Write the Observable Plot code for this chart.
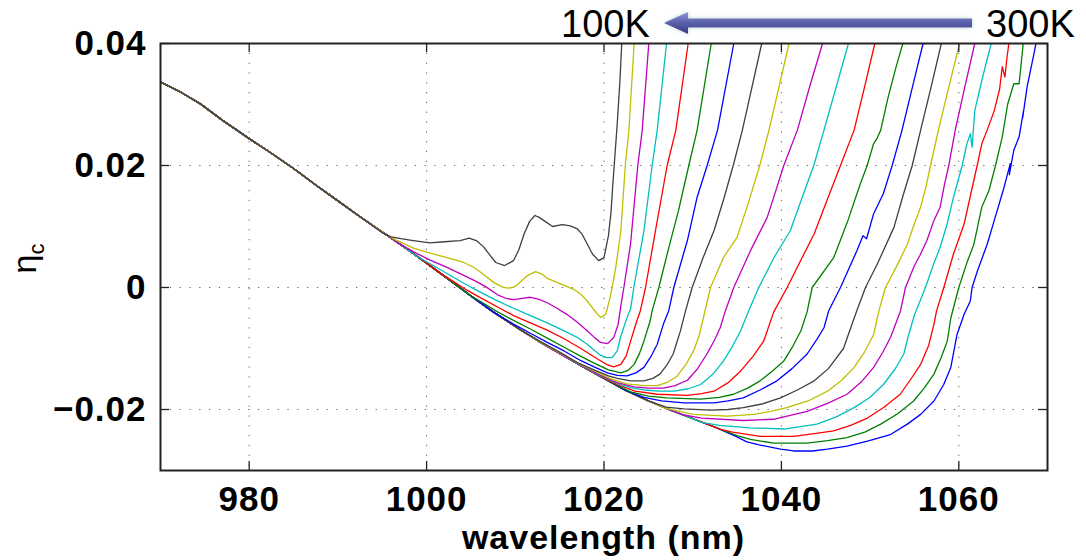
<!DOCTYPE html>
<html>
<head>
<meta charset="utf-8">
<script src="https://cdn.jsdelivr.net/npm/d3@7"></script>
<script src="https://cdn.jsdelivr.net/npm/@observablehq/plot@0.6"></script>
<style>
  html, body { margin: 0; padding: 0; background: #fff; }
  #chart { width: 1086px; height: 560px; position: relative; }
</style>
</head>
<body>
<div id="chart"></div>
<script>
// ---------- data ----------
const temps = [300, 290, 280, 270, 260, 250, 240, 230, 220, 210, 200, 190, 180, 170, 160, 150, 140, 130, 120, 110, 100];
const colorCycle = ["#0000ff", "#008000", "#ff0000", "#00bfbf", "#bf00bf", "#bfbf00", "#404040"];
const xTicks = [980, 1000, 1020, 1040, 1060];
const xTickLabels = ["980", "1000", "1020", "1040", "1060"];
const yTicks = [-0.02, 0, 0.02, 0.04];
const yTickLabels = ["\u22120.02", "0", "0.02", "0.04"];
const annLeft = "100K";
const annRight = "300K";

// common descending part shared by all curves (wavelength nm, eta_c)
const baseline = [[970,0.0337],[972.3,0.0320],[974.5,0.0301],[977,0.0274],[980,0.0244],[982.5,0.0220],[985,0.0195],[987.5,0.0168],[990,0.0142],[992.5,0.0116],[995,0.0091],[997.5,0.0066],[1000,0.0040],[1002.5,0.0013],[1005,-0.0014],[1007.5,-0.0040],[1010,-0.0064],[1012.5,-0.0087],[1015,-0.0108],[1017.5,-0.0129],[1020,-0.0149],[1022.5,-0.0169],[1025,-0.0186],[1027.5,-0.0201],[1030,-0.0215],[1032.5,-0.0229]];

// each curve after it leaves the common part
const t100 = [[995.0,0.0090],[996.0,0.0083],[997.1,0.0080],[998.5,0.0077],[1000.4,0.0073],[1002.0,0.0075],[1003.8,0.0077],[1004.8,0.0081],[1005.6,0.0077],[1006.4,0.0067],[1007.2,0.0052],[1007.8,0.0041],[1008.8,0.0036],[1009.8,0.0044],[1010.4,0.0062],[1011.0,0.0088],[1011.6,0.0108],[1012.2,0.0118],[1012.7,0.0115],[1013.2,0.0110],[1014.2,0.0100],[1015.3,0.0103],[1016.2,0.0101],[1017.0,0.0096],[1017.5,0.0088],[1017.9,0.0077],[1018.7,0.0055],[1019.4,0.0044],[1020.0,0.0049],[1020.5,0.0085],[1020.8,0.0125],[1021.0,0.0170],[1021.15,0.0200],[1021.5,0.0270],[1021.8,0.0340],[1022.0,0.0400],[1022.2,0.0460]];
const t110 = [[995.5,0.0086],[996.5,0.0078],[998.6,0.0064],[1000.5,0.0056],[1002.3,0.0049],[1004.2,0.0041],[1005.2,0.0034],[1006.1,0.0025],[1007.6,0.0008],[1008.5,0.0001],[1009.1,-0.0001],[1009.7,0.0000],[1010.2,0.0004],[1011.3,0.0019],[1012.3,0.0026],[1013.0,0.0022],[1013.6,0.0015],[1015.1,0.0006],[1016.6,-0.0003],[1017.4,-0.0011],[1018.1,-0.0022],[1019.1,-0.0041],[1019.6,-0.0049],[1020.2,-0.0044],[1020.7,-0.0016],[1021.3,0.0030],[1021.9,0.0093],[1022.4,0.0200],[1022.8,0.0257],[1023.4,0.0400],[1023.6,0.0460]];
const t120 = [[997.0,0.0071],[998.6,0.0058],[1000.4,0.0045],[1002.3,0.0033],[1004.0,0.0021],[1005.3,0.0012],[1006.7,0.0001],[1008.0,-0.0012],[1009.0,-0.0018],[1009.8,-0.0020],[1010.8,-0.0018],[1011.7,-0.0016],[1012.6,-0.0019],[1013.6,-0.0025],[1014.7,-0.0034],[1015.8,-0.0044],[1017.0,-0.0057],[1018.1,-0.0071],[1019.0,-0.0083],[1019.6,-0.0090],[1020.4,-0.0092],[1021.1,-0.0082],[1021.6,-0.0060],[1021.9,-0.0030],[1022.24,0.0000],[1022.99,0.0071],[1023.81,0.0200],[1024.31,0.0258],[1025.05,0.0400],[1025.3,0.0460]];
const t130 = [[999.0,0.0050],[1000.4,0.0039],[1002.3,0.0023],[1004.2,0.0007],[1006.1,-0.0008],[1008.0,-0.0022],[1009.8,-0.0034],[1011.7,-0.0046],[1013.6,-0.0058],[1015.5,-0.0071],[1017.0,-0.0082],[1018.1,-0.0093],[1019.0,-0.0104],[1019.6,-0.0111],[1020.3,-0.0115],[1020.9,-0.0115],[1021.5,-0.0104],[1021.85,-0.0082],[1022.6,-0.0049],[1023.0,-0.0035],[1023.36,0.0000],[1024.5,0.0093],[1025.43,0.0200],[1026.0,0.0258],[1027.05,0.0400],[1027.4,0.0460]];
const t140 = [[1001.5,0.0024],[1003.0,0.0010],[1004.5,-0.0004],[1006.1,-0.0017],[1008.0,-0.0032],[1009.8,-0.0046],[1011.7,-0.0058],[1013.6,-0.0070],[1015.5,-0.0084],[1017.4,-0.0100],[1018.6,-0.0111],[1019.6,-0.0120],[1020.4,-0.0127],[1021.1,-0.0130],[1021.9,-0.0126],[1022.5,-0.0112],[1023.0,-0.0088],[1023.7,-0.0055],[1024.1,-0.0038],[1024.68,0.0000],[1025.8,0.0093],[1027.12,0.0200],[1028.1,0.0258],[1029.49,0.0400],[1029.8,0.0460]];
const t150 = [[1005.0,-0.0014],[1006.1,-0.0023],[1008.0,-0.0040],[1009.8,-0.0054],[1011.7,-0.0068],[1013.6,-0.0083],[1015.5,-0.0098],[1017.4,-0.0113],[1018.6,-0.0122],[1019.6,-0.0129],[1020.5,-0.0135],[1021.1,-0.0137],[1021.9,-0.0140],[1022.7,-0.0136],[1023.4,-0.0126],[1024.0,-0.0108],[1024.5,-0.0088],[1025.2,-0.0055],[1025.43,-0.0038],[1026.18,0.0000],[1027.3,0.0065],[1028.4,0.0126],[1029.56,0.0200],[1030.5,0.0258],[1032.09,0.0400],[1032.5,0.0460]];
const t160 = [[1007.5,-0.0040],[1009.8,-0.0060],[1011.7,-0.0075],[1013.6,-0.0090],[1015.5,-0.0104],[1017.4,-0.0120],[1019.0,-0.0131],[1020.4,-0.0140],[1021.5,-0.0144],[1022.6,-0.0145],[1023.6,-0.0140],[1024.5,-0.0131],[1025.3,-0.0113],[1026.0,-0.0093],[1026.7,-0.0060],[1027.3,-0.0038],[1027.87,0.0000],[1029.4,0.0077],[1030.5,0.0148],[1031.63,0.0200],[1032.8,0.0258],[1034.63,0.0400],[1035.0,0.0460]];
const t170 = [[1010.5,-0.0069],[1013.0,-0.0090],[1015.0,-0.0106],[1017.0,-0.0123],[1019.0,-0.0136],[1020.5,-0.0145],[1021.5,-0.0149],[1023.0,-0.0153],[1024.5,-0.0153],[1025.5,-0.0149],[1026.3,-0.0142],[1027.1,-0.0127],[1027.8,-0.0109],[1028.6,-0.0072],[1029.2,-0.0038],[1029.94,0.0000],[1031.2,0.0050],[1032.4,0.0093],[1033.5,0.0145],[1034.57,0.0200],[1035.6,0.0258],[1037.78,0.0400],[1038.3,0.0460]];
const t180 = [[1013.5,-0.0095],[1015.5,-0.0111],[1017.5,-0.0127],[1019.5,-0.0141],[1021.0,-0.0151],[1022.6,-0.0158],[1024.5,-0.0161],[1026.0,-0.0161],[1027.2,-0.0155],[1028.2,-0.0146],[1029.2,-0.0127],[1030.1,-0.0104],[1030.7,-0.0080],[1031.2,-0.0050],[1032.01,0.0000],[1033.5,0.0050],[1035.0,0.0082],[1036.3,0.0140],[1037.56,0.0200],[1038.6,0.0258],[1040.86,0.0400],[1041.3,0.0460]];
const t190 = [[1015.5,-0.0112],[1017.5,-0.0128],[1019.5,-0.0143],[1021.5,-0.0156],[1023.4,-0.0163],[1025.0,-0.0165],[1026.7,-0.0165],[1028.0,-0.0161],[1029.4,-0.0152],[1030.5,-0.0134],[1031.6,-0.0109],[1032.4,-0.0088],[1033.1,-0.0066],[1033.69,-0.0038],[1034.63,0.0000],[1036.5,0.0060],[1038.4,0.0115],[1039.4,0.0160],[1040.27,0.0200],[1041.8,0.0258],[1043.2,0.0330],[1044.64,0.0400],[1045.1,0.0460]];
const t200 = [[1017.5,-0.0129],[1019.5,-0.0144],[1021.5,-0.0157],[1023.0,-0.0164],[1024.5,-0.0168],[1026.2,-0.0170],[1027.9,-0.0170],[1029.5,-0.0166],[1030.9,-0.0159],[1032.3,-0.0142],[1033.5,-0.0120],[1034.5,-0.0096],[1035.4,-0.0071],[1036.32,-0.0038],[1037.45,0.0000],[1039.2,0.0050],[1041.0,0.0093],[1042.5,0.0154],[1043.65,0.0200],[1044.8,0.0258],[1046.2,0.0330],[1047.56,0.0400],[1048.0,0.0460]];
const t210 = [[1019.5,-0.0145],[1021.5,-0.0159],[1023.5,-0.0170],[1026.0,-0.0175],[1029.4,-0.0177],[1031.0,-0.0174],[1032.4,-0.0170],[1034.0,-0.0156],[1035.4,-0.0137],[1036.8,-0.0113],[1038.0,-0.0088],[1039.14,-0.0040],[1040.65,0.0000],[1042.2,0.0045],[1043.7,0.0088],[1045.2,0.0145],[1046.66,0.0200],[1048.2,0.0258],[1049.4,0.0330],[1050.53,0.0400],[1051.0,0.0460]];
const t220 = [[1021.0,-0.0157],[1023.0,-0.0171],[1025.0,-0.0178],[1027.1,-0.0181],[1030.9,-0.0183],[1033.0,-0.0180],[1034.6,-0.0175],[1036.2,-0.0165],[1037.6,-0.0153],[1039.0,-0.0137],[1040.3,-0.0120],[1041.3,-0.0096],[1042.2,-0.0071],[1042.9,-0.0040],[1043.47,0.0000],[1045.9,0.0049],[1047.5,0.0110],[1048.9,0.0170],[1049.67,0.0200],[1050.4,0.0236],[1050.8,0.0245],[1051.2,0.0258],[1052.0,0.0310],[1052.9,0.0360],[1053.69,0.0400],[1054.1,0.0460]];
const t230 = [[1022.5,-0.0169],[1024.5,-0.0180],[1026.5,-0.0186],[1029.0,-0.0189],[1032.4,-0.0189],[1034.0,-0.0186],[1035.7,-0.0181],[1037.6,-0.0168],[1039.5,-0.0153],[1041.2,-0.0133],[1042.9,-0.0109],[1044.0,-0.0085],[1044.8,-0.0066],[1045.34,-0.0038],[1046.66,0.0000],[1048.5,0.0060],[1049.2,0.0085],[1049.6,0.0080],[1050.4,0.0121],[1051.5,0.0154],[1052.49,0.0200],[1053.6,0.0258],[1054.8,0.0330],[1055.97,0.0400],[1056.4,0.0460]];
const t240 = [[1025.0,-0.0186],[1027.0,-0.0196],[1029.0,-0.0199],[1032.0,-0.0201],[1034.0,-0.0200],[1035.7,-0.0197],[1037.8,-0.0191],[1039.9,-0.0181],[1041.8,-0.0168],[1043.7,-0.0153],[1045.3,-0.0133],[1047.0,-0.0100],[1047.6,-0.0075],[1048.5,-0.0038],[1049.48,0.0000],[1050.8,0.0038],[1052.7,0.0099],[1053.7,0.0150],[1054.75,0.0200],[1055.7,0.0258],[1056.9,0.0330],[1058.03,0.0400],[1058.4,0.0460]];
const t250 = [[1027.0,-0.0198],[1030.1,-0.0208],[1033.9,-0.0211],[1036.9,-0.0208],[1038.8,-0.0203],[1040.6,-0.0197],[1043.0,-0.0186],[1045.2,-0.0170],[1046.8,-0.0152],[1048.2,-0.0131],[1049.4,-0.0105],[1050.4,-0.0077],[1051.0,-0.0038],[1051.73,0.0000],[1053.0,0.0035],[1054.2,0.0071],[1055.0,0.0105],[1055.7,0.0132],[1056.3,0.0165],[1056.81,0.0200],[1057.7,0.0258],[1058.9,0.0330],[1060.08,0.0400],[1060.5,0.0460]];
const t260 = [[1029.0,-0.0209],[1031.0,-0.0214],[1035.7,-0.0218],[1039.1,-0.0216],[1042.9,-0.0203],[1045.2,-0.0190],[1047.4,-0.0175],[1049.0,-0.0155],[1050.4,-0.0131],[1051.4,-0.0107],[1052.3,-0.0082],[1053.0,-0.0055],[1053.43,-0.0038],[1053.99,0.0000],[1055.0,0.0036],[1055.6,0.0052],[1056.4,0.0077],[1057.2,0.0110],[1057.9,0.0132],[1058.4,0.0170],[1058.87,0.0200],[1059.6,0.0258],[1060.7,0.0330],[1061.8,0.0400],[1062.2,0.0460]];
const t270 = [[1031.0,-0.0221],[1033.0,-0.0226],[1036.5,-0.0230],[1040.3,-0.0232],[1044.0,-0.0224],[1046.2,-0.0212],[1048.2,-0.0197],[1050.0,-0.0180],[1051.5,-0.0159],[1052.8,-0.0134],[1053.8,-0.0109],[1054.3,-0.0080],[1055.0,-0.0045],[1056.24,0.0000],[1057.2,0.0040],[1057.9,0.0066],[1058.7,0.0105],[1059.4,0.0148],[1060.38,0.0200],[1060.9,0.0235],[1061.3,0.0252],[1061.5,0.0230],[1061.8,0.0290],[1062.6,0.0340],[1063.65,0.0400],[1064.0,0.0460]];
const t280 = [[1033.0,-0.0232],[1034.5,-0.0237],[1037.6,-0.0244],[1041.4,-0.0244],[1043.5,-0.0240],[1045.9,-0.0235],[1047.8,-0.0226],[1049.7,-0.0214],[1051.6,-0.0196],[1053.4,-0.0175],[1054.6,-0.0150],[1055.7,-0.0126],[1056.6,-0.0095],[1057.2,-0.0060],[1057.5,-0.0038],[1058.31,0.0000],[1059.4,0.0055],[1060.6,0.0104],[1061.3,0.0150],[1062.07,0.0200],[1062.6,0.0236],[1063.2,0.0258],[1064.0,0.0290],[1064.6,0.0325],[1064.9,0.0362],[1065.2,0.0345],[1065.4,0.0373],[1065.64,0.0400],[1065.9,0.0460]];
const t290 = [[1035.0,-0.0243],[1036.5,-0.0249],[1039.1,-0.0255],[1042.9,-0.0255],[1045.2,-0.0251],[1047.4,-0.0246],[1049.4,-0.0237],[1051.2,-0.0224],[1053.1,-0.0207],[1054.9,-0.0186],[1056.1,-0.0165],[1057.2,-0.0142],[1058.0,-0.0115],[1058.7,-0.0088],[1059.1,-0.0050],[1060.0,0.0000],[1060.9,0.0040],[1061.7,0.0071],[1062.2,0.0105],[1062.6,0.0132],[1063.4,0.0159],[1064.14,0.0200],[1064.9,0.0247],[1065.5,0.0300],[1066.2,0.0334],[1066.8,0.0334],[1067.0,0.0362],[1067.26,0.0400],[1067.5,0.0460]];
const t300 = [[1035.0,-0.0245],[1036.1,-0.0253],[1037.5,-0.0258],[1039.9,-0.0265],[1041.4,-0.0268],[1043.5,-0.0268],[1045.2,-0.0265],[1047.4,-0.0260],[1049.7,-0.0252],[1052.3,-0.0241],[1054.2,-0.0224],[1055.7,-0.0208],[1057.2,-0.0186],[1058.3,-0.0159],[1059.1,-0.0131],[1059.8,-0.0077],[1060.6,-0.0044],[1061.3,-0.0022],[1061.5,0.0000],[1062.1,0.0027],[1063.2,0.0071],[1064.1,0.0115],[1065.1,0.0164],[1065.8,0.0203],[1065.7,0.0185],[1066.2,0.0225],[1066.8,0.0247],[1067.3,0.0290],[1067.2,0.0278],[1067.7,0.0329],[1068.4,0.0378],[1068.7,0.0400],[1069.0,0.0460]];

const tails = {100:t100,110:t110,120:t120,130:t130,140:t140,150:t150,160:t160,170:t170,180:t180,190:t190,200:t200,210:t210,220:t220,230:t230,240:t240,250:t250,260:t260,270:t270,280:t280,290:t290,300:t300};

// ---------- build table ----------
const rows = [];
temps.forEach((T, i) => {
  const tail = tails[T];
  const start = tail[0][0];
  const col = colorCycle[i % colorCycle.length];
  baseline.filter(p => p[0] < start).forEach(p => rows.push({T, w: p[0], v: p[1], col}));
  tail.forEach(p => rows.push({T, w: p[0], v: p[1], col}));
});

// ---------- layout ----------
const W = 1086, H = 560;
const mL = 160, mR = 39, mT = 43, mB = 90;
const innerW = W - mL - mR, innerH = H - mT - mB;
const tickLen = 9;
const FONT = "'Liberation Sans', Arial, Helvetica, sans-serif";
const gridStyle = {stroke: "#666", strokeWidth: 1, strokeDasharray: "1.3,8.5"};

const chart = Plot.plot({
  width: W, height: H,
  marginLeft: mL, marginRight: mR, marginTop: mT, marginBottom: mB,
  style: {fontFamily: FONT, fontSize: "35px", fontWeight: "bold", color: "#000", background: "#fff", letterSpacing: "1px"},
  x: {domain: [970, 1070], ticks: xTicks, tickSize: 0, tickPadding: 16, label: null,
      tickFormat: d => xTickLabels[xTicks.indexOf(d)]},
  y: {domain: [-0.03, 0.04], ticks: yTicks, tickSize: 0, tickPadding: 14, label: null,
      tickFormat: d => yTickLabels[yTicks.indexOf(d)]},
  color: {type: "identity"},
  marks: [
    Plot.ruleX(xTicks, {x: d => d, ...gridStyle}),
    Plot.ruleY(yTicks.filter(d => d < 0.04), {y: d => d, ...gridStyle}),
    Plot.line(rows, {x: "w", y: "v", z: "T", stroke: "col", strokeWidth: 1.3, clip: true, curve: "linear"}),
    Plot.tickX(xTicks, {x: d => d, insetTop: innerH - tickLen, stroke: "#222", strokeWidth: 1.3}),
    Plot.tickX(xTicks, {x: d => d, insetBottom: innerH - tickLen, stroke: "#222", strokeWidth: 1.3}),
    Plot.tickY(yTicks, {y: d => d, insetRight: innerW - tickLen, stroke: "#222", strokeWidth: 1.3}),
    Plot.tickY(yTicks, {y: d => d, insetLeft: innerW - tickLen, stroke: "#222", strokeWidth: 1.3}),
    Plot.frame({stroke: "#222", strokeWidth: 2})
  ]
});

const svg = d3.select(chart);

// x-axis title
svg.append("text")
  .attr("x", mL + innerW / 2).attr("y", H - 11)
  .attr("text-anchor", "middle")
  .style("font-family", FONT).style("font-size", "34px").style("font-weight", "bold")
  .style("letter-spacing", "1px")
  .text("wavelength (nm)");

// y-axis title: eta with subscript c
const yl = svg.append("text")
  .attr("transform", `translate(36, ${mT + innerH / 2 + 2}) rotate(-90)`)
  .attr("text-anchor", "middle")
  .style("font-family", FONT).style("font-weight", "normal").style("letter-spacing", "0px");
yl.append("tspan").style("font-size", "34px").text("\u03b7");
yl.append("tspan").style("font-size", "22px").attr("dy", "0.35em").text("c");

// temperature-direction annotation above the plot
const defs = svg.append("defs");
const grad = defs.append("linearGradient").attr("id", "arrowGrad").attr("x1", 0).attr("y1", 0).attr("x2", 0).attr("y2", 1);
grad.append("stop").attr("offset", "0%").attr("stop-color", "#9397d6");
grad.append("stop").attr("offset", "45%").attr("stop-color", "#5e62ad");
grad.append("stop").attr("offset", "100%").attr("stop-color", "#363a86");
const flt = defs.append("filter").attr("id", "arrowGlow").attr("x", "-5%").attr("y", "-60%").attr("width", "110%").attr("height", "220%");
flt.append("feGaussianBlur").attr("in", "SourceAlpha").attr("stdDeviation", 2.2).attr("result", "b");
flt.append("feFlood").attr("flood-color", "#b9d4dc").attr("result", "c");
flt.append("feComposite").attr("in", "c").attr("in2", "b").attr("operator", "in").attr("result", "g");
const mg = flt.append("feMerge");
mg.append("feMergeNode").attr("in", "g");
mg.append("feMergeNode").attr("in", "SourceGraphic");

const ay = 23;
svg.append("path")
  .attr("d", `M664,${ay} L688,${ay - 11} L688,${ay - 4.5} L972,${ay - 4.5} L972,${ay + 4.5} L688,${ay + 4.5} L688,${ay + 11} Z`)
  .attr("fill", "url(#arrowGrad)")
  .attr("filter", "url(#arrowGlow)");

svg.append("text").attr("x", 561).attr("y", 37).attr("text-anchor", "start")
  .style("font-family", FONT).style("font-size", "38px").style("font-weight", "normal").style("letter-spacing", "0px")
  .text(annLeft);
svg.append("text").attr("x", 986).attr("y", 37).attr("text-anchor", "start")
  .style("font-family", FONT).style("font-size", "38px").style("font-weight", "normal").style("letter-spacing", "0px")
  .text(annRight);

document.getElementById("chart").appendChild(chart);
</script>
</body>
</html>
